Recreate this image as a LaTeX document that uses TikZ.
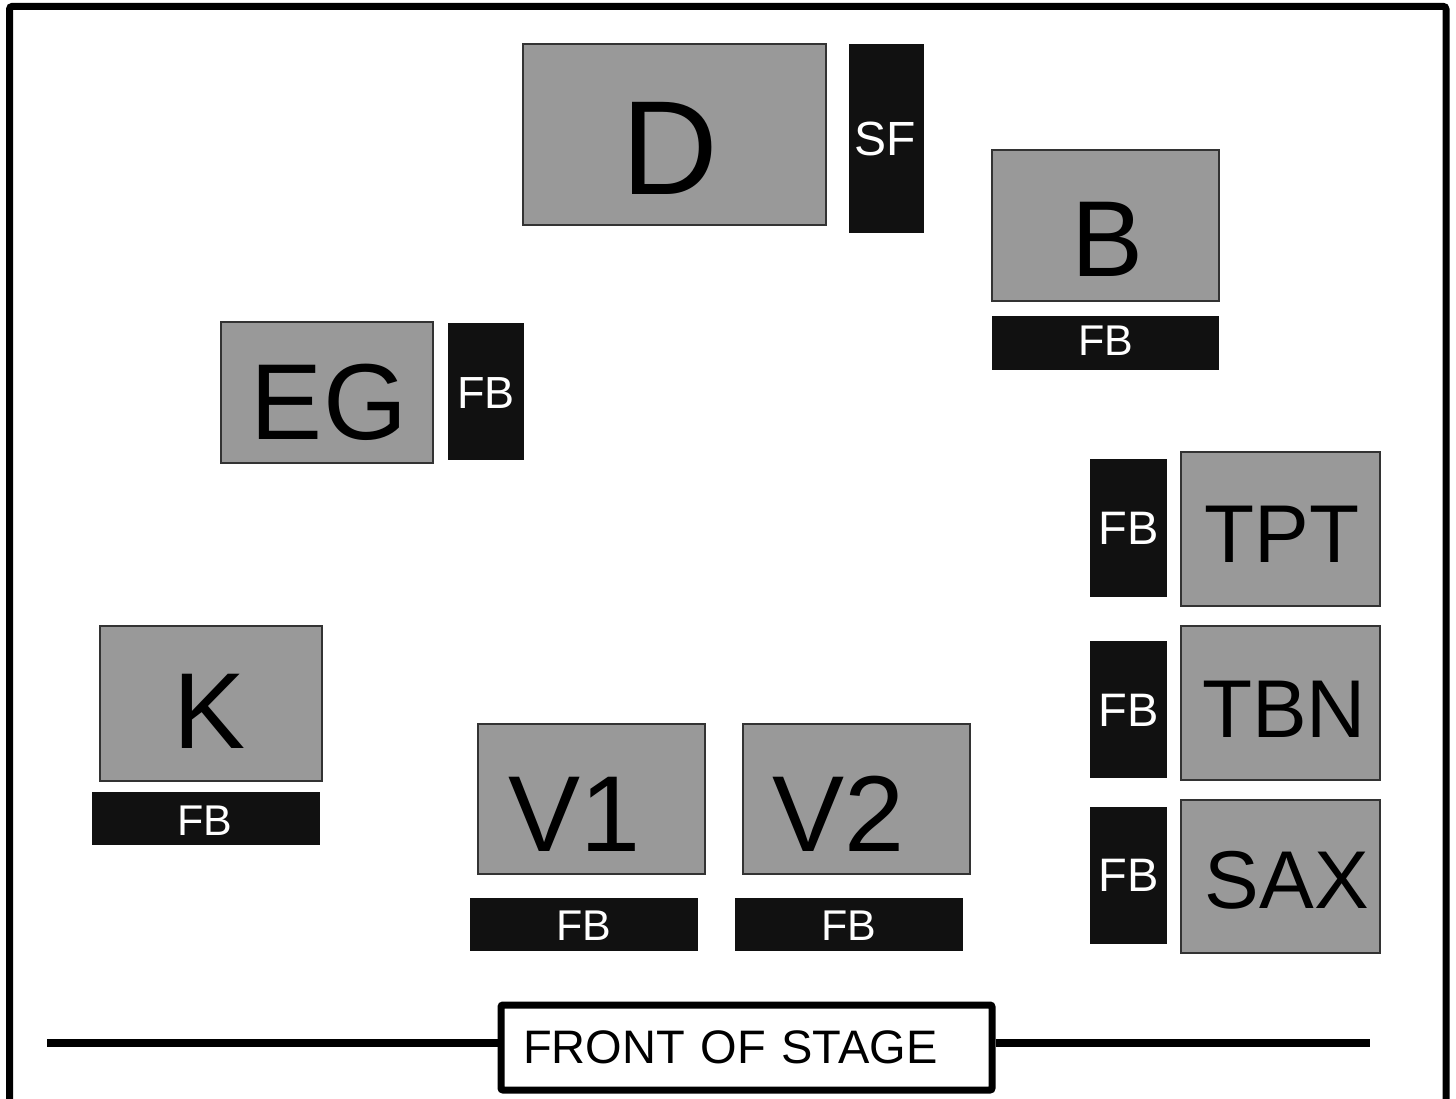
\documentclass[tikz,border=0pt]{standalone}
\usepackage{fontspec}
\setmainfont{Liberation Sans}

\definecolor{boxgray}{HTML}{999999}
\definecolor{boxline}{HTML}{333333}
\definecolor{fbblack}{HTML}{111111}

\tikzset{
    inst/.style={fill=boxgray, draw=boxline, line width=1.2},
    wedge/.style={fill=fbblack},
    lbl/.style={anchor=base, inner sep=0pt},
    fbtext/.style={lbl, text=white, font=\fontsize{43}{45}\selectfont},
    fbside/.style={lbl, text=white, font=\fontsize{47}{49}\selectfont},
}

\begin{document}
\begin{tikzpicture}[x=1pt, y=-1pt]
    \useasboundingbox (0, 0) rectangle (1456, 1099);
    \draw[line width=7, rounded corners=3] (9.5, 1130) -- (9.5, 6.3) -- (1446, 6.3) -- (1446, 1130);

    % drums and side fill
    \draw[inst] (523, 44) rectangle (826, 225);
    \fill[wedge] (849, 44) rectangle (924, 233);
    \node[lbl, font=\fontsize{134}{136}\selectfont] (drums) at (670, 195) {D};
    \node[lbl, text=white, font=\fontsize{48}{50}\selectfont] (sidefill) at (885, 156) {SF};

    % bass
    \draw[inst] (992, 150) rectangle (1219, 301);
    \fill[wedge] (992, 316) rectangle (1219, 370);
    \node[lbl, font=\fontsize{108}{110}\selectfont] (bass) at (1108, 277) {B};
    \node[fbtext] (bassfb) at (1106, 355) {FB};

    % electric guitar
    \draw[inst] (221, 322) rectangle (433, 463);
    \fill[wedge] (448, 323) rectangle (524, 460);
    \node[lbl, font=\fontsize{108}{110}\selectfont] (guitar) at (329, 439) {EG};
    \node[lbl, text=white, font=\fontsize{45}{47}\selectfont] (guitarfb) at (486, 408) {FB};

    % keys
    \draw[inst] (100, 626) rectangle (322, 781);
    \fill[wedge] (92, 792) rectangle (320, 845);
    \node[lbl, font=\fontsize{108}{110}\selectfont] (keys) at (210, 748) {K};
    \node[fbtext] (keysfb) at (205, 835) {FB};

    % vocals
    \foreach \i/\name in {0/V1, 1/V2} {
        \draw[inst] (478 + 265*\i, 724) rectangle (705 + 265*\i, 874);
        \fill[wedge] (470 + 265*\i, 898) rectangle (698 + 265*\i, 951);
        \node[lbl, font=\fontsize{108}{110}\selectfont] (vox\i) at (575 + 264*\i, 851) {\name};
        \node[fbtext] (voxfb\i) at (584 + 265*\i, 940) {FB};
    }

    % horns
    \draw[inst] (1181, 452) rectangle (1380, 606);
    \fill[wedge] (1090, 459) rectangle (1167, 597);
    \node[lbl, font=\fontsize{82}{84}\selectfont] (tpt) at (1282, 562) {TPT};
    \node[fbside] (tptfb) at (1129, 544) {FB};

    \draw[inst] (1181, 626) rectangle (1380, 780);
    \fill[wedge] (1090, 641) rectangle (1167, 778);
    \node[lbl, font=\fontsize{82}{84}\selectfont] (tbn) at (1284, 737) {TBN};
    \node[fbside] (tbnfb) at (1129, 726) {FB};

    \draw[inst] (1181, 800) rectangle (1380, 953);
    \fill[wedge] (1090, 807) rectangle (1167, 944);
    \node[lbl, font=\fontsize{82}{84}\selectfont] (sax) at (1287, 908) {SAX};
    \node[fbside] (saxfb) at (1129, 891) {FB};

    % front of stage
    \node[draw, fill=white, line width=7, rounded corners=2, minimum width=491, minimum height=85,
          inner xsep=22, text width=447, align=left, text height=35, text depth=2.6,
          font=\fontsize{47}{49}\selectfont]
          (front) at (746.5, 1047.5) {FRONT OF STAGE};
    \coordinate (lineL) at (47, 1043);
    \coordinate (lineR) at (1370, 1043);
    \draw[line width=8] (lineL) -- (lineL -| front.west);
    \draw[line width=8] (front.east |- lineR) -- (lineR);
\end{tikzpicture}
\end{document}
